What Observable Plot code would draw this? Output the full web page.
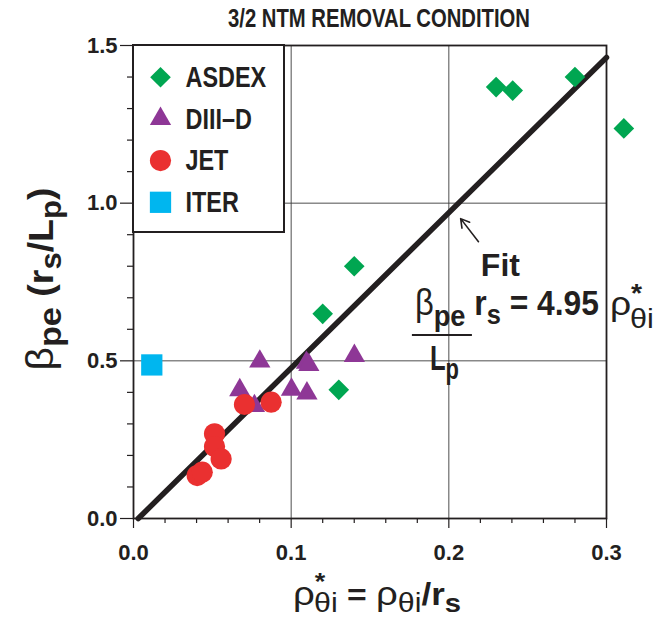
<!DOCTYPE html>
<html>
<head>
<meta charset="utf-8">
<script src="https://cdn.jsdelivr.net/npm/d3@7"></script>
<script src="https://cdn.jsdelivr.net/npm/@observablehq/plot@0.6"></script>
<style>
  html, body { margin: 0; padding: 0; background: #fff; }
  #chart svg { display: block; }
</style>
</head>
<body>
<div id="chart"></div>
<script>
// ---------- data ----------
const seriesNames = ["ASDEX", "DIII\u2013D", "JET", "ITER"];
const asdexX = [0.230, 0.2405, 0.280, 0.311, 0.140, 0.120, 0.1302];
const asdexY = [1.368, 1.357, 1.400, 1.237, 0.800, 0.649, 0.408];
const diiidX = [0.0801, 0.0674, 0.0767, 0.1002, 0.1097, 0.1112, 0.110, 0.1401];
const diiidY = [0.498, 0.407, 0.357, 0.409, 0.494, 0.487, 0.397, 0.516];
const jetX = [0.0704, 0.0873, 0.0514, 0.0514, 0.0556, 0.0404, 0.0436];
const jetY = [0.3616, 0.369, 0.2686, 0.228, 0.189, 0.136, 0.147];
const iterX = [0.0116];
const iterY = [0.487];
const fitX = [0.003, 0.300];
const fitY = [0.000, 1.462];

const xMajorTicks = [0, 0.1, 0.2, 0.3];
const xTickLabels = ["0.0", "0.1", "0.2", "0.3"];
const yMajorTicks = [0, 0.5, 1.0, 1.5];
const yTickLabels = ["0.0", "0.5", "1.0", "1.5"];
const xMinorTicks = [0.02, 0.04, 0.06, 0.08, 0.12, 0.14, 0.16, 0.18, 0.22, 0.24, 0.26, 0.28];
const yMinorTicks = [0.1, 0.2, 0.3, 0.4, 0.6, 0.7, 0.8, 0.9, 1.1, 1.2, 1.3, 1.4];
const xGridLines = [0.1, 0.2];
const yGridLines = [0.5, 1.0];

const titleText = "3/2 NTM REMOVAL CONDITION";
const fitLabel = "Fit";
// annotation anchors (data units)
const fitArrowFrom = [0.2188, 0.878];
const fitArrowTo = [0.2075, 0.951];
const fitLabelAt = [0.2327, 0.80];
const formulaAt = [0.1788, 0.644];

// ---------- style ----------
const seriesColors = ["#00a651", "#8e3796", "#ea3030", "#00b6ef"];
const seriesSymbols = ["diamond2", "triangle", "circle", "square"];
const seriesR = [9.3, 7.9, 10.6, 12.0];
const INK = "#231f20";
const SANS = '"Liberation Sans", Arial, sans-serif';
const GREEK = '"Liberation Sans", "DejaVu Sans", sans-serif';
const NARROW_K = 0.78; // condensed look

const xs = [asdexX, diiidX, jetX, iterX];
const ys = [asdexY, diiidY, jetY, iterY];
const seriesData = seriesNames.map((s, i) => xs[i].map((x, j) => ({series: s, x, y: ys[i][j]})));
const fitLine = fitX.map((x, i) => ({x, y: fitY[i]}));
const legendItems = seriesNames.map((s, i) => ({series: s, i}));

const W = 658, H = 618;
const M = {left: 133, right: 52, top: 45, bottom: 100};

// rich text helper: parts = [{t, size, weight, family, shift, dx}] shift = baseline offset (px, +down)
function richText(parent, x, y, parts, anchor, length) {
  const t = parent.append("text").attr("x", x).attr("y", y)
    .attr("text-anchor", anchor || "start").attr("fill", INK);
  if (length) t.attr("textLength", length).attr("lengthAdjust", "spacingAndGlyphs");
  let prev = 0;
  for (const p of parts) {
    const sh = p.shift || 0;
    const ts = t.append("tspan").text(p.t)
      .attr("font-size", p.size)
      .attr("font-weight", p.weight || "bold")
      .attr("font-family", p.family || SANS)
      .attr("dy", sh - prev);
    if (p.dx) ts.attr("dx", p.dx);
    prev = sh;
  }
  return t;
}

const legendSpacing = 41.7;

const marks = [
  Plot.gridX(xGridLines, {stroke: "#3a3a3a", strokeOpacity: 1, strokeWidth: 0.9}),
  Plot.gridY(yGridLines, {stroke: "#3a3a3a", strokeOpacity: 1, strokeWidth: 0.9}),
  Plot.axisX(xMinorTicks, {tickSize: 5, text: null, label: null, stroke: INK, strokeWidth: 1.2}),
  Plot.axisY(yMinorTicks, {tickSize: 6, text: null, label: null, stroke: INK, strokeWidth: 1.2}),
  Plot.axisX(xMajorTicks, {tickSize: 10, tickPadding: 16, stroke: INK, strokeWidth: 1.2,
    tickFormat: (d) => xTickLabels[xMajorTicks.indexOf(d)], fontSize: 22, fill: INK, label: null}),
  Plot.axisY(yMajorTicks, {tickSize: 13, tickPadding: 3, stroke: INK, strokeWidth: 1.2,
    tickFormat: (d) => yTickLabels[yMajorTicks.indexOf(d)], fontSize: 22, fill: INK, label: null}),
  Plot.line(fitLine, {x: "x", y: "y", stroke: INK, strokeWidth: 5.5}),
  ...seriesData.map((data, i) => Plot.dot(data, {x: "x", y: "y", symbol: () => seriesSymbols[i],
    fill: seriesColors[i], r: seriesR[i], stroke: "none"})),
  Plot.frame({stroke: INK, strokeWidth: 1.8}),
  // legend box
  () => {
    const g = d3.create("svg:g");
    g.append("rect").attr("x", M.left).attr("y", M.top).attr("width", 151).attr("height", 187)
      .attr("fill", "#fff").attr("stroke", INK).attr("stroke-width", 2);
    return g.node();
  },
  ...legendItems.map(d => Plot.dot([d], {frameAnchor: "top-left", dx: 27, dy: 31.7 + d.i * legendSpacing,
    symbol: () => seriesSymbols[d.i], fill: seriesColors[d.i], r: seriesR[d.i], stroke: "none"})),
  ...legendItems.map(d => Plot.text([d], {frameAnchor: "top-left", dx: 52, dy: 31.7 + d.i * legendSpacing,
    text: "series", textAnchor: "start", lineAnchor: "middle", fontSize: 30, fontWeight: "bold", fill: INK})),
  Plot.text([titleText], {frameAnchor: "top", dx: 9, dy: -27, text: d => d, fontSize: 26,
    fontWeight: "bold", fill: INK, lineAnchor: "middle"}),
  Plot.arrow([0], {x1: () => fitArrowFrom[0], y1: () => fitArrowFrom[1], x2: () => fitArrowTo[0], y2: () => fitArrowTo[1],
    stroke: INK, strokeWidth: 1.6, headLength: 11}),
  Plot.text([fitLabel], {x: () => fitLabelAt[0], y: () => fitLabelAt[1], text: d => d, fontSize: 32,
    fontWeight: "bold", fill: INK, lineAnchor: "middle"}),
  // formula + axis labels as rich text
  (index, scales) => {
    const g = d3.create("svg:g");
    const fx = scales.x(formulaAt[0]), fy = scales.y(formulaAt[1]);
    richText(g, fx, fy, [
      {t: "\u03b2", size: 36, weight: "normal", family: GREEK},
      {t: "pe", size: 30, shift: 11},
      {t: " r", size: 35, shift: 0},
      {t: "s", size: 28, shift: 9},
      {t: " = 4.95", size: 35, shift: 0}
    ], "start", 184);
    richText(g, fx + 195, fy, [
      {t: "\u03c1", size: 34, weight: "normal", family: GREEK},
      {t: "*", size: 26, shift: -13},
      {t: "\u03b8i", size: 28, weight: "normal", family: GREEK, shift: 13, dx: -11}
    ], "start", 44);
    g.append("line").attr("x1", fx - 3).attr("x2", fx + 57).attr("y1", fy + 20).attr("y2", fy + 20)
      .attr("stroke", INK).attr("stroke-width", 2);
    richText(g, fx + 15, fy + 55, [
      {t: "L", size: 35},
      {t: "p", size: 30, shift: 9}
    ], "start", 29);
    // y label (rotated)
    const gy = g.append("g").attr("transform", `translate(53, 279) rotate(-90)`);
    richText(gy, 0, 0, [
      {t: "\u03b2", size: 38, weight: "normal", family: GREEK},
      {t: "pe", size: 32, shift: 8},
      {t: " (r", size: 35, shift: 0},
      {t: "s", size: 29, shift: 8},
      {t: "/L", size: 35, shift: 0},
      {t: "p", size: 29, shift: 8},
      {t: ")", size: 35, shift: 0}
    ], "middle", 183);
    // x label
    richText(g, 377, 605, [
      {t: "\u03c1", size: 34, weight: "normal", family: GREEK},
      {t: "*", size: 24, shift: -15},
      {t: "\u03b8i", size: 27, weight: "normal", family: GREEK, shift: 7, dx: -10},
      {t: " = ", size: 30, shift: 0},
      {t: "\u03c1", size: 34, weight: "normal", family: GREEK, shift: 0},
      {t: "\u03b8i", size: 27, weight: "normal", family: GREEK, shift: 7},
      {t: "/r", size: 31, shift: 0},
      {t: "s", size: 26, shift: 7}
    ], "middle", 168);
    return g.node();
  }
];

const chart = Plot.plot({
  width: W, height: H,
  marginLeft: M.left, marginRight: M.right, marginTop: M.top, marginBottom: M.bottom,
  x: {domain: [0, 0.3], axis: null},
  y: {domain: [0, 1.5], axis: null},
  style: {fontFamily: SANS, fontWeight: "bold", background: "#fff", overflow: "visible", color: INK},
  marks
});
document.getElementById("chart").appendChild(chart);

// condensed look for legend and title texts
const narrowTexts = new Set([...seriesNames, titleText]);
chart.querySelectorAll("text").forEach(el => {
  if (!narrowTexts.has(el.textContent)) return;
  const k = el.textContent === titleText ? 302 / el.getComputedTextLength() : NARROW_K;
  el.setAttribute("textLength", el.getComputedTextLength() * k);
  el.setAttribute("lengthAdjust", "spacingAndGlyphs");
});
</script>
</body>
</html>
